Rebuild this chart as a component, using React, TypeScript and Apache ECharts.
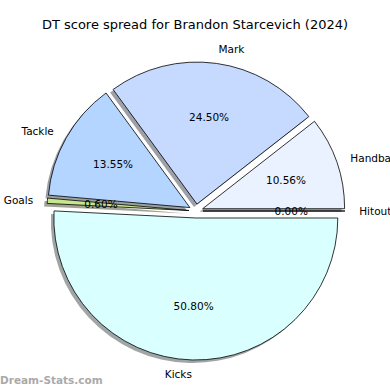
import React, { useEffect, useRef } from "react";
import * as echarts from "echarts";

const titleText = "DT score spread for Brandon Starcevich (2024)";
const categories = ["Handball", "Mark", "Tackle", "Goals", "Kicks", "Hitout"];
const values = [10.56, 24.5, 13.55, 0.6, 50.8, 0.0];
const colors = ["#eaf1ff", "#c6d9ff", "#b3d5ff", "#c8e68c", "#d9ffff", "#d0d0d0"];
const watermark = "Dream-Stats.com";

const FONT = "DejaVu Sans";

function shadowColor(hex: string) {
  const r = parseInt(hex.slice(1, 3), 16);
  const g = parseInt(hex.slice(3, 5), 16);
  const b = parseInt(hex.slice(5, 7), 16);
  return `rgba(${Math.round(r * 0.3)},${Math.round(g * 0.3)},${Math.round(b * 0.3)},0.5)`;
}

export default function App() {
  const ref = useRef<HTMLDivElement>(null);
  useEffect(() => {
    document.body.style.margin = "0";
    if (!ref.current) return;
    const chart = echarts.init(ref.current, null, { renderer: "svg" });
    const cx = 196;
    const cy = 211;
    const R = 142;
    const common = {
      type: "pie",
      startAngle: 0,
      clockwise: false,
      selectedMode: "multiple",
      selectedOffset: 7,
      avoidLabelOverlap: false,
      minAngle: 0,
      emphasis: { disabled: true },
    };
    const shadowSeries = {
      ...common,
      z: 1,
      center: [cx - 3, cy + 3],
      radius: R,
      label: { show: false },
      labelLine: { show: false },
      data: categories.map((c, i) => ({
        name: c,
        value: values[i],
        selected: true,
        itemStyle: { color: shadowColor(colors[i]), borderWidth: 0 },
        select: { itemStyle: { color: shadowColor(colors[i]), borderWidth: 0 } },
      })),
    };
    const mainSeries = {
      ...common,
      z: 2,
      center: [cx, cy],
      radius: R,
      label: {
        show: true,
        position: "outside",
        formatter: "{b}",
        fontFamily: FONT,
        fontSize: 10.5,
        color: "#000",
        distanceToLabelLine: 0,
      },
      labelLine: { show: false, length: R * 0.1, length2: 0 },
      data: categories.map((c, i) => ({
        name: c,
        value: values[i],
        selected: true,
        itemStyle: { color: colors[i], borderColor: "#000", borderWidth: 0.8 },
        select: { itemStyle: { color: colors[i], borderColor: "#000", borderWidth: 0.8 } },
      })),
    };
    const pctSeries = {
      ...common,
      z: 3,
      center: [cx, cy],
      radius: R * 1.2,
      silent: true,
      label: {
        show: true,
        position: "inside",
        formatter: (p: any) => Number(p.value).toFixed(2) + "%",
        fontFamily: FONT,
        fontSize: 10.5,
        color: "#000",
      },
      labelLine: { show: false },
      data: categories.map((c, i) => ({
        name: c,
        value: values[i],
        selected: true,
        itemStyle: { color: "rgba(0,0,0,0)", borderWidth: 0 },
        select: { itemStyle: { color: "rgba(0,0,0,0)", borderWidth: 0 } },
      })),
    };
    chart.setOption({
      animation: false,
      title: {
        text: titleText,
        left: "center",
        top: 18,
        padding: 0,
        textStyle: { fontFamily: FONT, fontSize: 13, fontWeight: "normal", color: "#000" },
      },
      series: [shadowSeries, mainSeries, pctSeries],
      graphic: [
        {
          type: "text",
          left: 0,
          top: 374,
          style: {
            text: watermark,
            fill: "#aaaaaa",
            font: `bold 10.5px "${FONT}"`,
          },
        },
      ],
    } as any);
    return () => chart.dispose();
  }, []);
  return <div ref={ref} style={{ width: 390, height: 390 }} />;
}
